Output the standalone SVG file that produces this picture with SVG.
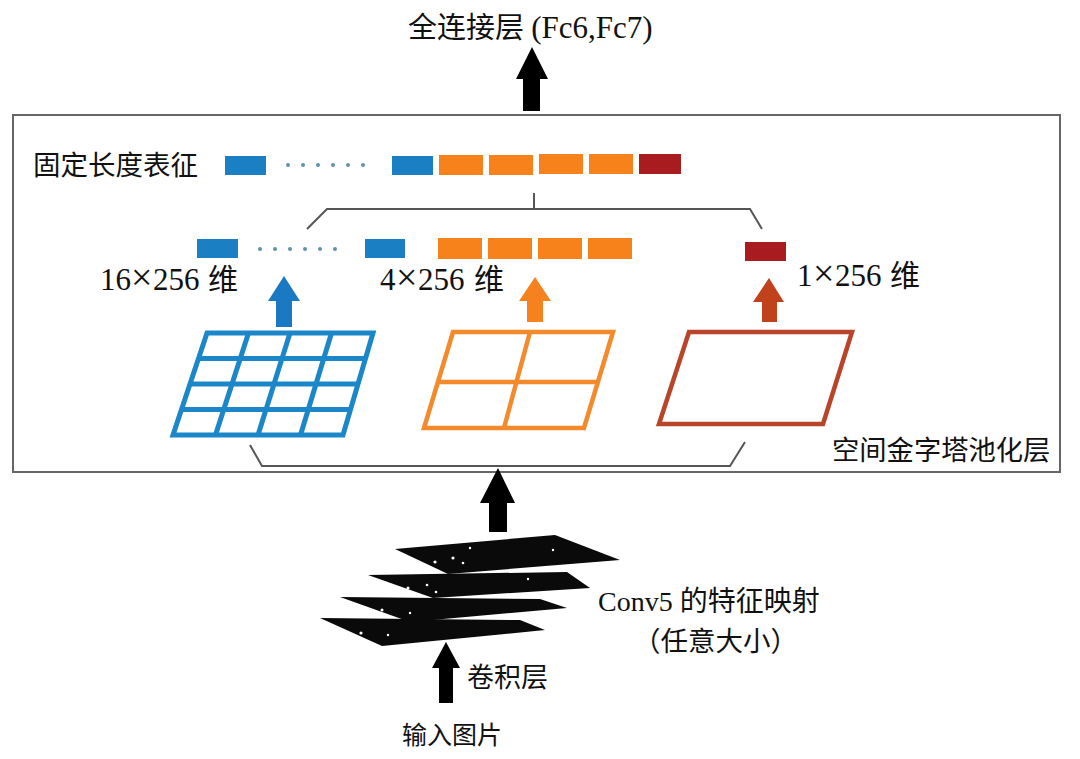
<svg xmlns="http://www.w3.org/2000/svg" width="1080" height="759" viewBox="0 0 1080 759">
<defs>
<style>
.t{font-family:"Liberation Serif","Noto Sans CJK SC",serif;fill:#111;}
.br{fill:none;stroke:#555;stroke-width:2;}
.blue{fill:#1b7fc3;}
.orange{fill:#f7821b;}
.dred{fill:#a81c20;}
.dot{fill:#5f93a8;}
.lay{fill:#0a0a0a;}
.wd{fill:#fff;}
</style>
</defs>
<rect width="1080" height="759" fill="#ffffff"/>

<g id="title">
<text class="t" x="408" y="38" font-size="29">全连接层 <tspan font-size="31">(Fc6,Fc7)</tspan></text>
</g>

<g id="spp-box">
<rect x="13" y="115" width="1047" height="357" fill="none" stroke="#666" stroke-width="2"/>
<text class="t" x="832" y="460" font-size="27.3">空间金字塔池化层</text>
</g>

<g id="fixed-length">
<text class="t" x="33" y="175" font-size="27.5">固定长度表征</text>
<rect class="blue" x="225" y="156" width="41" height="19"/>
<g class="dot">
<circle cx="288" cy="165" r="2"/><circle cx="303" cy="165" r="2"/><circle cx="318" cy="165" r="2"/>
<circle cx="333" cy="165" r="2"/><circle cx="348" cy="165" r="2"/><circle cx="363" cy="165" r="2"/>
</g>
<rect class="blue" x="392" y="156" width="41" height="19"/>
<rect class="orange" x="439" y="155" width="44" height="20"/>
<rect class="orange" x="489" y="155" width="44" height="20"/>
<rect class="orange" x="539" y="154" width="44" height="20"/>
<rect class="orange" x="589" y="154" width="44" height="20"/>
<rect class="dred" x="639" y="154" width="42" height="20"/>
</g>

<g id="level-16">
<rect class="blue" x="197" y="239" width="41" height="19"/>
<g class="dot">
<circle cx="260" cy="249" r="2"/><circle cx="275" cy="249" r="2"/><circle cx="290" cy="249" r="2"/>
<circle cx="305" cy="249" r="2"/><circle cx="320" cy="249" r="2"/><circle cx="335" cy="249" r="2"/>
</g>
<rect class="blue" x="365" y="239" width="40" height="19"/>
<text class="t" x="100" y="290" font-size="31">16<tspan x="131" font-size="38">×</tspan><tspan x="153">256</tspan><tspan x="208" font-size="30">维</tspan></text>
<g fill="none" stroke="#1b86c8" stroke-width="5" stroke-linejoin="miter">
<polygon points="207,333 373,333 343,435 173,435"/>
<line x1="198.5" y1="358.5" x2="365.5" y2="358.5"/>
<line x1="190" y1="384" x2="358" y2="384"/>
<line x1="181.5" y1="409.5" x2="350.5" y2="409.5"/>
<line x1="248.5" y1="333" x2="215.5" y2="435"/>
<line x1="290" y1="333" x2="258" y2="435"/>
<line x1="331.5" y1="333" x2="300.5" y2="435"/>
</g>
</g>

<g id="level-4">
<rect class="orange" x="438" y="238" width="44" height="21"/>
<rect class="orange" x="488" y="238" width="44" height="21"/>
<rect class="orange" x="538" y="238" width="44" height="21"/>
<rect class="orange" x="588" y="238" width="44" height="21"/>
<text class="t" x="380" y="290" font-size="31">4<tspan x="396" font-size="38">×</tspan><tspan x="418">256</tspan><tspan x="474" font-size="30">维</tspan></text>
<g fill="none" stroke="#f38a2c" stroke-width="4.5">
<polygon points="453,332 613,332 584,428 424,428"/>
<line x1="438.5" y1="382" x2="598.5" y2="382"/>
<line x1="530" y1="332" x2="504" y2="428"/>
</g>
</g>

<g id="level-1">
<rect class="dred" x="745" y="242" width="41" height="19"/>
<text class="t" x="797" y="286" font-size="31">1<tspan x="813" font-size="38">×</tspan><tspan x="835">256</tspan><tspan x="890" font-size="30">维</tspan></text>
<polygon points="689,332 852,332 823,424 659,424" fill="none" stroke="#b8452a" stroke-width="4.5"/>
</g>

<g id="conv5">
<polygon class="lay" points="320,618 520,620 545,630 382,646"/>
<polygon class="lay" points="340,597 540,599 567,608 410,622"/>
<polygon class="lay" points="368,575 567,572 590,588 433,598"/>
<polygon class="lay" points="395,549 555,535 620,560 448,574"/>
<g class="wd">
<circle cx="435" cy="562" r="1.6"/><circle cx="453" cy="558" r="1.6"/><circle cx="463" cy="563" r="1.3"/>
<circle cx="470" cy="548" r="1.2"/><circle cx="553" cy="550" r="1.2"/>
<circle cx="408" cy="588" r="1.5"/><circle cx="427" cy="585" r="1.3"/><circle cx="436" cy="592" r="1.3"/><circle cx="528" cy="579" r="1.2"/>
<circle cx="382" cy="610" r="1.5"/><circle cx="410" cy="613" r="1.2"/>
<circle cx="361" cy="633" r="1.6"/><circle cx="388" cy="635" r="1.2"/>
</g>
<text class="t" x="598" y="611" font-size="28">Conv5 的特征映射</text>
<text class="t" x="633" y="651" font-size="27.5">（任意大小）</text>
</g>

<g id="conv-layer">
<text class="t" x="467" y="687" font-size="27">卷积层</text>
</g>

<g id="input">
<text class="t" x="402" y="744" font-size="25">输入图片</text>
</g>

<g id="connectors">
<polyline class="br" points="307,229 327,209 750,209 762,229"/>
<line class="br" x1="534" y1="193" x2="534" y2="209"/>
<polyline class="br" points="250,445 262,466 730,466 745,442"/>
<polygon fill="#000" points="532,47 548,79 540,79 540,111 523,111 523,79 516,79"/>
<polygon fill="#000" points="498,468 515,503 507,503 507,532 489,532 489,503 480,503"/>
<polygon fill="#000" points="446,642 460,668 453,668 453,703 439,703 439,668 432,668"/>
<polygon fill="#1b78c2" points="284,276 300,301 292,301 292,327 276,327 276,301 268,301"/>
<polygon fill="#f5821f" points="535,277 551,301 543,301 543,322 527,322 527,301 519,301"/>
<polygon fill="#c0421c" points="769,278 784,302 777,302 777,322 762,322 762,302 753,302"/>
</g>
</svg>
